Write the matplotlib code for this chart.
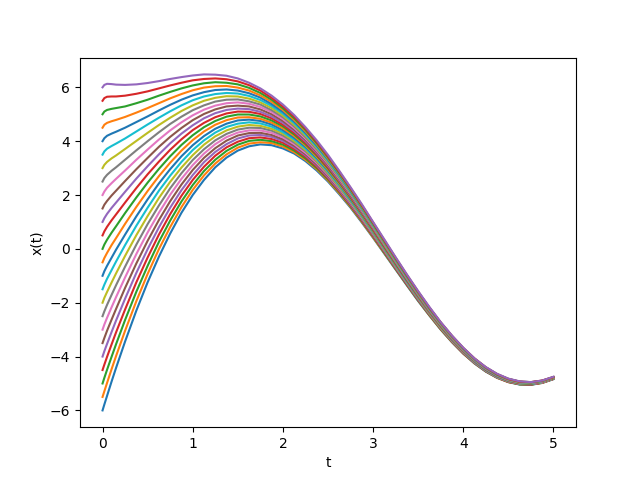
import numpy as np
import matplotlib
matplotlib.use("Agg")
import matplotlib.pyplot as plt

# tiempos muestreados
t_vals = [0, 0.02, 0.05, 0.1, 0.15, 0.25, 0.375, 0.5, 0.625, 0.75, 0.875, 1.0, 1.125,
          1.25, 1.375, 1.5, 1.625, 1.75, 1.875, 2.0, 2.125, 2.25, 2.375, 2.5, 2.625,
          2.75, 2.875, 3.0, 3.125, 3.25, 3.375, 3.5, 3.625, 3.75, 3.875, 4.0, 4.125,
          4.25, 4.375, 4.5, 4.625, 4.75, 4.875, 5.0]

# condiciones iniciales x(0) de cada curva
x0_vals = [-6.0, -5.5, -5.0, -4.5, -4.0, -3.5, -3.0, -2.5, -2.0, -1.5, -1.0, -0.5, 0.0,
           0.5, 1.0, 1.5, 2.0, 2.5, 3.0, 3.5, 4.0, 4.5, 5.0, 5.5, 6.0]

# x(t): una fila por tiempo, una columna por curva
x_rows = [
    x0_vals,
    [-5.78, -5.29, -4.79, -4.30, -3.80, -3.31, -2.81, -2.32, -1.82, -1.33, -0.83, -0.34, 0.16, 0.65, 1.14, 1.64, 2.13, 2.63, 3.12, 3.62, 4.11, 4.61, 5.10, 5.60, 6.09],
    [-5.46, -4.98, -4.49, -4.01, -3.53, -3.04, -2.56, -2.08, -1.60, -1.11, -0.63, -0.15, 0.34, 0.82, 1.30, 1.78, 2.27, 2.75, 3.23, 3.72, 4.20, 4.68, 5.16, 5.65, 6.13],
    [-4.93, -4.47, -4.01, -3.55, -3.09, -2.63, -2.17, -1.71, -1.25, -0.79, -0.33, 0.14, 0.60, 1.06, 1.52, 1.98, 2.44, 2.90, 3.36, 3.82, 4.28, 4.74, 5.20, 5.66, 6.12],
    [-4.42, -3.98, -3.54, -3.10, -2.66, -2.23, -1.79, -1.35, -0.91, -0.47, -0.03, 0.40, 0.84, 1.28, 1.72, 2.16, 2.60, 3.03, 3.47, 3.91, 4.35, 4.79, 5.23, 5.66, 6.10],
    [-3.44, -3.04, -2.64, -2.25, -1.85, -1.45, -1.06, -0.66, -0.26, 0.14, 0.53, 0.93, 1.33, 1.72, 2.12, 2.52, 2.91, 3.31, 3.71, 4.10, 4.50, 4.90, 5.29, 5.69, 6.09],
    [-2.29, -1.94, -1.59, -1.24, -0.89, -0.54, -0.19, 0.16, 0.51, 0.86, 1.21, 1.56, 1.91, 2.26, 2.61, 2.96, 3.31, 3.66, 4.01, 4.36, 4.71, 5.06, 5.41, 5.76, 6.11],
    [-1.24, -0.93, -0.63, -0.32, -0.01, 0.30, 0.61, 0.92, 1.22, 1.53, 1.84, 2.15, 2.46, 2.77, 3.07, 3.38, 3.69, 4.00, 4.31, 4.62, 4.92, 5.23, 5.54, 5.85, 6.16],
    [-0.29, -0.01, 0.26, 0.53, 0.80, 1.07, 1.34, 1.61, 1.89, 2.16, 2.43, 2.70, 2.97, 3.24, 3.51, 3.79, 4.06, 4.33, 4.60, 4.87, 5.14, 5.41, 5.69, 5.96, 6.23],
    [0.57, 0.81, 1.05, 1.29, 1.53, 1.77, 2.01, 2.25, 2.49, 2.72, 2.96, 3.20, 3.44, 3.68, 3.92, 4.16, 4.40, 4.64, 4.87, 5.11, 5.35, 5.59, 5.83, 6.07, 6.31],
    [1.34, 1.55, 1.76, 1.97, 2.18, 2.39, 2.60, 2.81, 3.02, 3.23, 3.44, 3.65, 3.86, 4.07, 4.28, 4.49, 4.70, 4.91, 5.12, 5.33, 5.54, 5.75, 5.96, 6.17, 6.38],
    [2.00, 2.19, 2.37, 2.56, 2.74, 2.93, 3.11, 3.30, 3.48, 3.67, 3.85, 4.04, 4.22, 4.41, 4.59, 4.78, 4.96, 5.15, 5.33, 5.52, 5.70, 5.89, 6.07, 6.26, 6.44],
    [2.56, 2.73, 2.89, 3.05, 3.22, 3.38, 3.54, 3.70, 3.87, 4.03, 4.19, 4.36, 4.52, 4.68, 4.85, 5.01, 5.17, 5.33, 5.50, 5.66, 5.82, 5.99, 6.15, 6.31, 6.48],
    [3.03, 3.17, 3.31, 3.46, 3.60, 3.74, 3.89, 4.03, 4.18, 4.32, 4.46, 4.61, 4.75, 4.89, 5.04, 5.18, 5.32, 5.47, 5.61, 5.75, 5.90, 6.04, 6.19, 6.33, 6.47],
    [3.39, 3.51, 3.64, 3.77, 3.89, 4.02, 4.15, 4.27, 4.40, 4.53, 4.65, 4.78, 4.91, 5.03, 5.16, 5.29, 5.41, 5.54, 5.67, 5.79, 5.92, 6.05, 6.17, 6.30, 6.43],
    [3.65, 3.76, 3.87, 3.98, 4.10, 4.21, 4.32, 4.43, 4.54, 4.65, 4.77, 4.88, 4.99, 5.10, 5.21, 5.32, 5.44, 5.55, 5.66, 5.77, 5.88, 5.99, 6.11, 6.22, 6.33],
    [3.81, 3.91, 4.01, 4.11, 4.21, 4.30, 4.40, 4.50, 4.60, 4.70, 4.80, 4.89, 4.99, 5.09, 5.19, 5.29, 5.39, 5.48, 5.58, 5.68, 5.78, 5.88, 5.98, 6.08, 6.17],
    [3.88, 3.96, 4.05, 4.14, 4.23, 4.31, 4.40, 4.49, 4.57, 4.66, 4.75, 4.83, 4.92, 5.01, 5.09, 5.18, 5.27, 5.36, 5.44, 5.53, 5.62, 5.70, 5.79, 5.88, 5.96],
    [3.85, 3.93, 4.00, 4.08, 4.16, 4.23, 4.31, 4.39, 4.46, 4.54, 4.62, 4.69, 4.77, 4.85, 4.92, 5.00, 5.08, 5.15, 5.23, 5.31, 5.38, 5.46, 5.54, 5.61, 5.69],
    [3.73, 3.80, 3.87, 3.94, 4.01, 4.07, 4.14, 4.21, 4.28, 4.34, 4.41, 4.48, 4.55, 4.61, 4.68, 4.75, 4.82, 4.89, 4.95, 5.02, 5.09, 5.16, 5.22, 5.29, 5.36],
    [3.54, 3.59, 3.65, 3.71, 3.77, 3.83, 3.89, 3.95, 4.01, 4.07, 4.13, 4.19, 4.25, 4.31, 4.37, 4.43, 4.49, 4.55, 4.61, 4.67, 4.73, 4.79, 4.85, 4.91, 4.97],
    [3.26, 3.31, 3.36, 3.42, 3.47, 3.52, 3.57, 3.63, 3.68, 3.73, 3.79, 3.84, 3.89, 3.94, 4.00, 4.05, 4.10, 4.15, 4.21, 4.26, 4.31, 4.37, 4.42, 4.47, 4.52],
    [2.91, 2.96, 3.00, 3.05, 3.10, 3.14, 3.19, 3.24, 3.28, 3.33, 3.38, 3.42, 3.47, 3.51, 3.56, 3.61, 3.65, 3.70, 3.75, 3.79, 3.84, 3.89, 3.93, 3.98, 4.03],
    [2.50, 2.54, 2.58, 2.62, 2.66, 2.71, 2.75, 2.79, 2.83, 2.87, 2.91, 2.95, 2.99, 3.03, 3.08, 3.12, 3.16, 3.20, 3.24, 3.28, 3.32, 3.36, 3.40, 3.44, 3.49],
    [2.03, 2.07, 2.11, 2.14, 2.18, 2.22, 2.25, 2.29, 2.32, 2.36, 2.40, 2.43, 2.47, 2.51, 2.54, 2.58, 2.61, 2.65, 2.69, 2.72, 2.76, 2.80, 2.83, 2.87, 2.90],
    [1.53, 1.56, 1.59, 1.62, 1.65, 1.69, 1.72, 1.75, 1.78, 1.81, 1.84, 1.88, 1.91, 1.94, 1.97, 2.00, 2.04, 2.07, 2.10, 2.13, 2.16, 2.20, 2.23, 2.26, 2.29],
    [0.98, 1.01, 1.04, 1.06, 1.09, 1.12, 1.15, 1.18, 1.20, 1.23, 1.26, 1.29, 1.32, 1.35, 1.37, 1.40, 1.43, 1.46, 1.49, 1.51, 1.54, 1.57, 1.60, 1.63, 1.66],
    [0.41, 0.43, 0.46, 0.48, 0.51, 0.53, 0.56, 0.58, 0.61, 0.63, 0.66, 0.68, 0.71, 0.73, 0.76, 0.78, 0.81, 0.83, 0.86, 0.88, 0.91, 0.93, 0.95, 0.98, 1.00],
    [-0.18, -0.16, -0.14, -0.11, -0.09, -0.07, -0.05, -0.03, -0.00, 0.02, 0.04, 0.06, 0.08, 0.10, 0.13, 0.15, 0.17, 0.19, 0.21, 0.24, 0.26, 0.28, 0.30, 0.32, 0.35],
    [-0.77, -0.75, -0.74, -0.72, -0.70, -0.68, -0.66, -0.64, -0.62, -0.60, -0.58, -0.56, -0.54, -0.52, -0.50, -0.48, -0.46, -0.44, -0.43, -0.41, -0.39, -0.37, -0.35, -0.33, -0.31],
    [-1.36, -1.34, -1.33, -1.31, -1.29, -1.28, -1.26, -1.24, -1.22, -1.21, -1.19, -1.17, -1.16, -1.14, -1.12, -1.11, -1.09, -1.07, -1.05, -1.04, -1.02, -1.00, -0.99, -0.97, -0.95],
    [-1.94, -1.92, -1.91, -1.89, -1.88, -1.86, -1.84, -1.83, -1.81, -1.80, -1.78, -1.77, -1.75, -1.74, -1.72, -1.71, -1.69, -1.68, -1.66, -1.65, -1.63, -1.62, -1.60, -1.59, -1.57],
    [-2.48, -2.47, -2.46, -2.44, -2.43, -2.42, -2.40, -2.39, -2.38, -2.36, -2.35, -2.34, -2.32, -2.31, -2.30, -2.28, -2.27, -2.26, -2.24, -2.23, -2.22, -2.20, -2.19, -2.18, -2.16],
    [-3.00, -2.99, -2.98, -2.96, -2.95, -2.94, -2.93, -2.92, -2.91, -2.89, -2.88, -2.87, -2.86, -2.85, -2.83, -2.82, -2.81, -2.80, -2.79, -2.78, -2.76, -2.75, -2.74, -2.73, -2.72],
    [-3.47, -3.46, -3.45, -3.44, -3.43, -3.42, -3.41, -3.40, -3.39, -3.38, -3.37, -3.36, -3.35, -3.34, -3.33, -3.32, -3.31, -3.30, -3.28, -3.27, -3.26, -3.25, -3.24, -3.23, -3.22],
    [-3.89, -3.89, -3.88, -3.87, -3.86, -3.85, -3.84, -3.83, -3.82, -3.81, -3.80, -3.79, -3.78, -3.78, -3.77, -3.76, -3.75, -3.74, -3.73, -3.72, -3.71, -3.70, -3.69, -3.68, -3.67],
    [-4.26, -4.25, -4.24, -4.23, -4.23, -4.22, -4.21, -4.20, -4.19, -4.19, -4.18, -4.17, -4.16, -4.15, -4.15, -4.14, -4.13, -4.12, -4.11, -4.11, -4.10, -4.09, -4.08, -4.07, -4.07],
    [-4.56, -4.55, -4.55, -4.54, -4.53, -4.53, -4.52, -4.51, -4.50, -4.50, -4.49, -4.48, -4.48, -4.47, -4.46, -4.45, -4.45, -4.44, -4.43, -4.43, -4.42, -4.41, -4.40, -4.40, -4.39],
    [-4.79, -4.79, -4.78, -4.77, -4.77, -4.76, -4.76, -4.75, -4.74, -4.74, -4.73, -4.72, -4.72, -4.71, -4.71, -4.70, -4.69, -4.69, -4.68, -4.67, -4.67, -4.66, -4.66, -4.65, -4.64],
    [-4.95, -4.95, -4.94, -4.94, -4.93, -4.93, -4.92, -4.92, -4.91, -4.90, -4.90, -4.89, -4.89, -4.88, -4.88, -4.87, -4.87, -4.86, -4.85, -4.85, -4.84, -4.84, -4.83, -4.83, -4.82],
    [-5.04, -5.03, -5.03, -5.02, -5.02, -5.02, -5.01, -5.01, -5.00, -5.00, -4.99, -4.99, -4.98, -4.98, -4.97, -4.97, -4.96, -4.96, -4.95, -4.95, -4.94, -4.94, -4.93, -4.93, -4.92],
    [-5.05, -5.04, -5.04, -5.04, -5.03, -5.03, -5.02, -5.02, -5.01, -5.01, -5.01, -5.00, -5.00, -4.99, -4.99, -4.98, -4.98, -4.98, -4.97, -4.97, -4.96, -4.96, -4.95, -4.95, -4.95],
    [-4.98, -4.98, -4.97, -4.97, -4.96, -4.96, -4.96, -4.95, -4.95, -4.95, -4.94, -4.94, -4.93, -4.93, -4.93, -4.92, -4.92, -4.91, -4.91, -4.91, -4.90, -4.90, -4.90, -4.89, -4.89],
    [-4.84, -4.83, -4.83, -4.83, -4.82, -4.82, -4.82, -4.81, -4.81, -4.81, -4.80, -4.80, -4.80, -4.79, -4.79, -4.79, -4.78, -4.78, -4.78, -4.77, -4.77, -4.77, -4.76, -4.76, -4.75],
]

t = np.array(t_vals)
x = np.array(x_rows)

fig = plt.figure(figsize=(6.4, 4.8), dpi=100)
plt.plot(t, x)  # una linea por columna, ciclo de colores por defecto
plt.xlabel("t")
plt.ylabel("x(t)")
plt.savefig("out.png")
